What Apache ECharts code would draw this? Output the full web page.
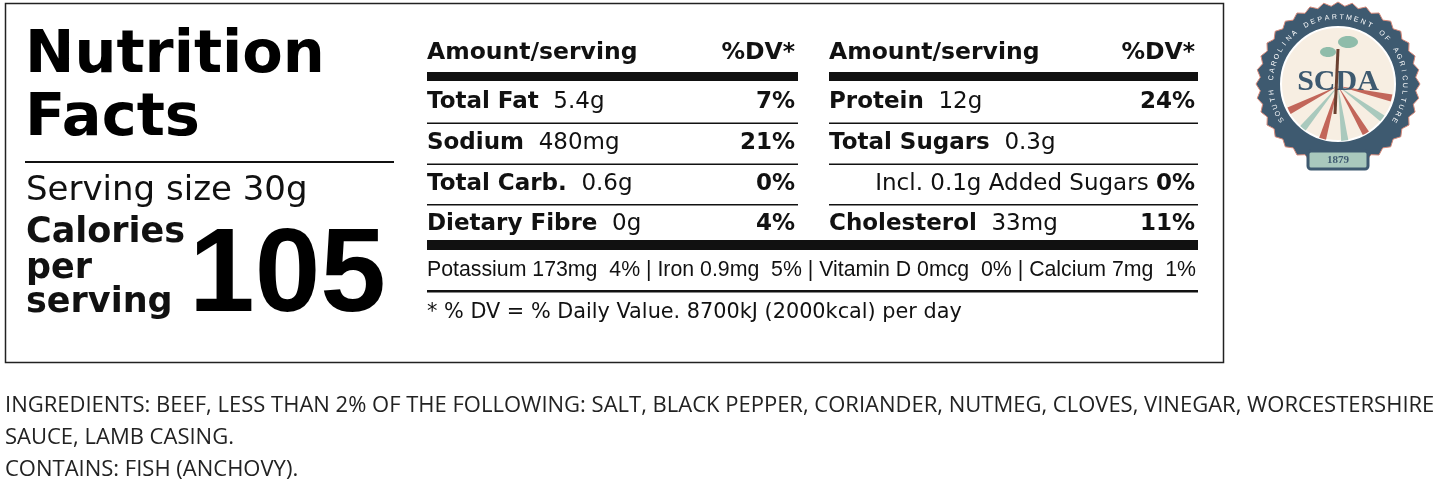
<!DOCTYPE html>
<html><head><meta charset="utf-8">
<script src="https://cdn.jsdelivr.net/npm/echarts@6/dist/echarts.min.js"></script>
<style>html,body{margin:0;padding:0;background:#fff}#c{width:1445px;height:496px}</style>
</head><body><div id="c"></div>
<script>
const leftNames = ["Total Fat", "Sodium", "Total Carb.", "Dietary Fibre"];
const leftAmounts = ["5.4g", "480mg", "0.6g", "0g"];
const leftDV = ["7%", "21%", "0%", "4%"];
const rightNames = ["Protein", "Total Sugars", "Incl. 0.1g Added Sugars", "Cholesterol"];
const rightAmounts = ["12g", "0.3g", "", "33mg"];
const rightDV = ["24%", "", "0%", "11%"];
const minerals = ["Potassium 173mg  4%", "Iron 0.9mg  5%", "Vitamin D 0mcg  0%", "Calcium 7mg  1%"];
const calories = "105";
const servingSize = "30g";
const footnote = "* % DV = % Daily Value. 8700kJ (2000kcal) per day";
const ingredients = ["INGREDIENTS: BEEF, LESS THAN 2% OF THE FOLLOWING: SALT, BLACK PEPPER, CORIANDER, NUTMEG, CLOVES, VINEGAR, WORCESTERSHIRE", "SAUCE, LAMB CASING.", "CONTAINS: FISH (ANCHOVY)."];

const F = "DejaVu Sans, sans-serif";
const A = "Liberation Sans, Arial, sans-serif";
const g = [];
function txt(x, y, s, size, weight, align, family, extra) {
  g.push({type:'text', x, y, style:Object.assign({text:s, font:(weight||'normal')+' '+size+'px '+(family||F), fill:'#111', textAlign:align||'left', textVerticalAlign:'middle'}, extra||{})});
}
function rect(x, y, w, h, fill) { g.push({type:'rect', shape:{x, y, width:w, height:h}, style:{fill:fill||'#111'}}); }
g.push({type:'rect', shape:{x:5.5, y:3.5, width:1218, height:359}, style:{fill:'none', stroke:'#222', lineWidth:1.5}});
txt(25, 57, "Nutrition", 59, 'bold', 'left', F, {fill:'#000'});
txt(25, 120, "Facts", 59, 'bold', 'left', F, {fill:'#000'});
rect(25, 161, 369, 2);
txt(26, 191, "Serving size " + servingSize, 34);
txt(26, 233, "Calories", 35, 'bold');
txt(26, 269, "per", 35, 'bold');
txt(26, 303, "serving", 35, 'bold');
txt(386, 278, calories, 118, 'bold', 'right', A, {fill:'#000'});

function column(x0, x1, names, amts, dvs) {
  txt(x0, 53, "Amount/serving", 23.5, 'bold');
  txt(x1, 53, "%DV*", 23.5, 'bold', 'right');
  rect(x0, 72, x1 - x0 + 3, 9);
  const ys = [102, 143, 184, 224];
  names.forEach((n, i) => {
    if (n.startsWith("Incl.")) {
      g.push({type:'text', x:x1, y:ys[i], style:{text:'{a|'+n+' }{b|'+dvs[i]+'}', textAlign:'right', textVerticalAlign:'middle', rich:{a:{font:'normal 23px '+F, fill:'#111'}, b:{font:'bold 23px '+F, fill:'#111'}}}});
    } else {
      g.push({type:'text', x:x0, y:ys[i], style:{text:'{a|'+n+'}{b|  '+amts[i]+'}', textVerticalAlign:'middle', rich:{a:{font:'bold 23px '+F, fill:'#111'}, b:{font:'normal 23px '+F, fill:'#111'}}}});
      if (dvs[i]) txt(x1, ys[i], dvs[i], 23, 'bold', 'right');
    }
    if (i < 3) rect(x0, (ys[i] + ys[i+1]) / 2, x1 - x0 + 3, 1.5);
  });
}
column(427, 795, leftNames, leftAmounts, leftDV);
column(829, 1195, rightNames, rightAmounts, rightDV);
rect(427, 240, 771, 10);
txt(427, 270, minerals.join(" | "), 21.3, 'normal', 'left', A, {fill:'#111'});
rect(427, 290, 771, 2.5);
txt(427, 313, footnote, 20.8);
ingredients.forEach((l, i) => txt(5, 406 + i * 32, l, 22, 'normal', 'left', 'Open Sans', {fill:'#222'}));

// logo
const cx = 1338, cy = 84;
const teeth = [];
for (let k = 0; k < 72; k++) { const a = k / 72 * Math.PI * 2, r = k % 2 ? 78 : 82; teeth.push([cx + r * Math.cos(a), cy + r * Math.sin(a)]); }
g.push({type:'polygon', shape:{points:teeth}, style:{fill:'#3e5a70', stroke:'#d88a7a', lineWidth:1}});
g.push({type:'circle', shape:{cx, cy, r:57}, style:{fill:'#f7eee2', stroke:'#fff', lineWidth:2}});
for (let k = 0; k < 7; k++) {
  const a0 = Math.PI * (0.05 + k * 0.13), a1 = a0 + 0.13;
  g.push({type:'sector', shape:{cx, cy:cy+2, r:55, r0:0, startAngle:a0, endAngle:a1}, style:{fill: k % 2 ? '#a9c9bd' : '#c2665a'}});
}
g.push({type:'text', x:cx, y:cy - 2, style:{text:'SCDA', font:'bold 30px Liberation Serif, serif', fill:'#3e5a70', textAlign:'center', textVerticalAlign:'middle'}});
g.push({type:'line', shape:{x1:cx-3, y1:cy+30, x2:cx, y2:cy-35}, style:{stroke:'#6b4030', lineWidth:3}});
g.push({type:'ellipse', shape:{cx:cx+10, cy:cy-42, rx:10, ry:6}, style:{fill:'#8fbcaa'}});
g.push({type:'ellipse', shape:{cx:cx-10, cy:cy-32, rx:8, ry:5}, style:{fill:'#8fbcaa'}});
g.push({type:'rect', shape:{x:cx-30, y:cy+67, width:60, height:18, r:3}, style:{fill:'#a9c9bd', stroke:'#3e5a70', lineWidth:3}});
g.push({type:'text', x:cx, y:cy+76, style:{text:'1879', font:'bold 11px Liberation Serif, serif', fill:'#3e5a70', textAlign:'center', textVerticalAlign:'middle'}});
const arc = "SOUTH CAROLINA DEPARTMENT OF AGRICULTURE";
for (let k = 0; k < arc.length; k++) {
  const a = Math.PI * (0.82 + k / (arc.length - 1) * 1.36);
  g.push({type:'text', x:cx + 67 * Math.cos(a), y:cy + 67 * Math.sin(a), rotation:-(a + Math.PI/2), style:{text:arc[k], font:'7px Liberation Sans', fill:'#fff', textAlign:'center', textVerticalAlign:'middle'}});
}

const chart = echarts.init(document.getElementById('c'));
chart.setOption({animation:false, graphic:g});
</script></body></html>
